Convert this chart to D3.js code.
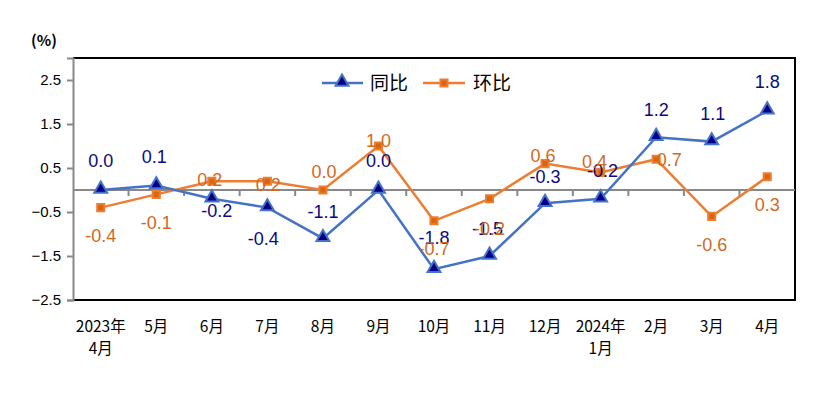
<!DOCTYPE html>
<html>
<head>
<meta charset="utf-8">
<script src="https://cdn.jsdelivr.net/npm/d3@7"></script>
<style>
body { margin: 0; background: #fff; }
text { font-family: "Noto Sans CJK SC", "Noto Sans", sans-serif; }
</style>
</head>
<body>
<script>
// chart data
var months = ["2023年\n4月", "5月", "6月", "7月", "8月", "9月", "10月", "11月", "12月", "2024年\n1月", "2月", "3月", "4月"];
var yoy = [0.0, 0.1, -0.2, -0.4, -1.1, 0.0, -1.8, -1.5, -0.3, -0.2, 1.2, 1.1, 1.8];
var mom = [-0.4, -0.1, 0.2, 0.2, 0.0, 1.0, -0.7, -0.2, 0.6, 0.4, 0.7, -0.6, 0.3];
var yTicks = [2.5, 1.5, 0.5, -0.5, -1.5, -2.5];

// label offsets (px) so they sit like the original
var yoyDx = [0, -2, 5, -4, 0, 0, 0, -2, 0, 2, 0, 1, 0];
var yoyDy = [-29, -29, 12, 31, -27, -29, -32, -27, -27, -28, -28, -28, -29];
var momDx = [0, 0, -2, 1, 1, 0, 0, 0, -2, -6, 13, 0, 0];
var momDy = [28, 28, -2, 3, -18, -5, 28, 30, -8, -11, 0, 28, 28];

var width = 831, height = 397;
var plotL = 73, plotR = 795, plotT = 58, plotB = 300;

var svg = d3.select("body").append("svg")
    .attr("width", width)
    .attr("height", height);

var x = d3.scaleBand().domain(months).range([plotL, plotR]);
var y = d3.scaleLinear().domain([-2.5, 3.0]).range([plotB, plotT]);
var cx = function(i) { return x(months[i]) + x.bandwidth() / 2; };

// frame
svg.append("path")
    .attr("d", "M" + plotL + "," + plotT + "H" + plotR + "V" + plotB + "H" + plotL)
    .attr("fill", "none").attr("stroke", "#000").attr("stroke-width", 2);

// y axis
var yAxis = svg.append("g")
    .attr("transform", "translate(" + plotL + ",0)")
    .call(d3.axisLeft(y).tickValues(yTicks).tickSize(6).tickPadding(6).tickFormat(d3.format(".1f")));
yAxis.select(".domain").attr("stroke", "#888").attr("stroke-width", 2);
yAxis.selectAll(".tick line").attr("stroke", "#888").attr("stroke-width", 2);
yAxis.selectAll(".tick text")
    .attr("font-size", 15).attr("fill", "#000")
    .style("font-family", "'Liberation Sans', sans-serif");

svg.append("text")
    .attr("x", 44).attr("y", 46)
    .attr("text-anchor", "middle")
    .attr("font-size", 15).attr("font-weight", "bold")
    .text("(%)");

// zero line with category ticks
var zero = svg.append("g")
    .attr("transform", "translate(0," + y(0) + ")");
zero.append("line")
    .attr("x1", plotL).attr("x2", plotR)
    .attr("stroke", "#888").attr("stroke-width", 2);
zero.selectAll(".ztick")
    .data(months.slice(1))
    .enter().append("line")
    .attr("class", "ztick")
    .attr("x1", function(d) { return x(d); })
    .attr("x2", function(d) { return x(d); })
    .attr("y1", 0).attr("y2", 6)
    .attr("stroke", "#888").attr("stroke-width", 2);

// x labels
var xl = svg.selectAll(".xlab")
    .data(months)
    .enter().append("text")
    .attr("class", "xlab")
    .attr("text-anchor", "middle")
    .attr("font-size", 15.5)
    .attr("fill", "#000");
xl.each(function(d) {
    var t = d3.select(this);
    d.split("\n").forEach(function(s, k) {
        t.append("tspan")
            .attr("x", x(d) + x.bandwidth() / 2)
            .attr("y", 332 + k * 22)
            .text(s);
    });
});

var line = d3.line()
    .x(function(d, i) { return cx(i); })
    .y(function(d) { return y(d); });

var blue = "#4472C4", orange = "#ED7D31";

// mom line
svg.append("path")
    .datum(mom)
    .attr("d", line)
    .attr("fill", "none").attr("stroke", orange).attr("stroke-width", 2.5);

// yoy line
svg.append("path")
    .datum(yoy)
    .attr("d", line)
    .attr("fill", "none").attr("stroke", blue).attr("stroke-width", 2.5);

var tri = d3.symbol().type(d3.symbolTriangle).size(72);
var sq = d3.symbol().type(d3.symbolSquare).size(50);

svg.selectAll(".msq")
    .data(mom)
    .enter().append("path")
    .attr("class", "msq")
    .attr("d", sq)
    .attr("transform", function(d, i) { return "translate(" + cx(i) + "," + y(d) + ")"; })
    .attr("fill", "#D9650F").attr("stroke", orange).attr("stroke-width", 2);

svg.selectAll(".ytri")
    .data(yoy)
    .enter().append("path")
    .attr("class", "ytri")
    .attr("d", tri)
    .attr("transform", function(d, i) { return "translate(" + cx(i) + "," + (y(d) - 1) + ")"; })
    .attr("fill", "#00008B").attr("stroke", blue).attr("stroke-width", 2);

// labels
svg.selectAll(".ylab")
    .data(yoy)
    .enter().append("text")
    .attr("class", "ylab")
    .attr("x", function(d, i) { return cx(i) + yoyDx[i]; })
    .attr("y", function(d, i) { return y(d) + yoyDy[i]; })
    .attr("dy", "0.35em")
    .attr("text-anchor", "middle")
    .attr("font-size", 18)
    .attr("fill", "#0A0A80")
    .style("font-family", "'Liberation Sans', sans-serif")
    .text(function(d) { return d.toFixed(1); });

svg.selectAll(".mlab")
    .data(mom)
    .enter().append("text")
    .attr("class", "mlab")
    .attr("x", function(d, i) { return cx(i) + momDx[i]; })
    .attr("y", function(d, i) { return y(d) + momDy[i]; })
    .attr("dy", "0.35em")
    .attr("text-anchor", "middle")
    .attr("font-size", 18)
    .attr("fill", "#D2691E")
    .style("font-family", "'Liberation Sans', sans-serif")
    .text(function(d) { return d.toFixed(1); });

// legend
var lg = svg.append("g").attr("transform", "translate(0,83)");
lg.append("line").attr("x1", 322).attr("x2", 363).attr("stroke", blue).attr("stroke-width", 2.5);
lg.append("path").attr("d", tri).attr("transform", "translate(342,-1)")
    .attr("fill", "#00008B").attr("stroke", blue).attr("stroke-width", 2);
lg.append("text").attr("x", 370).attr("dy", "0.35em").attr("font-size", 19).text("同比");
lg.append("line").attr("x1", 423).attr("x2", 465).attr("stroke", orange).attr("stroke-width", 2.5);
lg.append("path").attr("d", sq).attr("transform", "translate(444,0)")
    .attr("fill", "#D9650F").attr("stroke", orange).attr("stroke-width", 2);
lg.append("text").attr("x", 473).attr("dy", "0.35em").attr("font-size", 19).text("环比");
</script>
</body>
</html>
